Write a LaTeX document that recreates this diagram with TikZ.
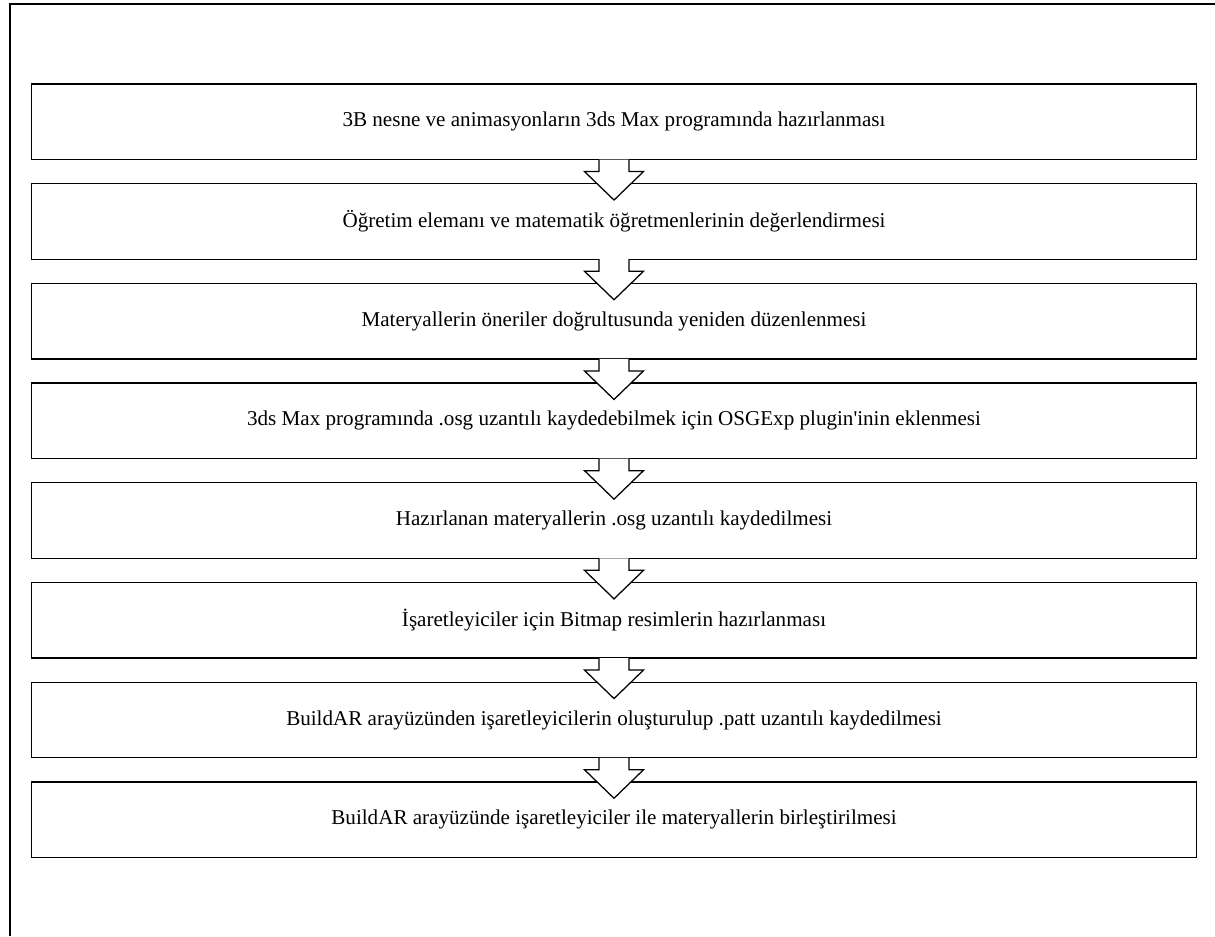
\documentclass[tikz,border=0pt]{standalone}
\usepackage{fontspec}
\setmainfont{Liberation Serif}[Ligatures=TeXOff]
\usepackage{tikz}

\tikzset{
  stepbox/.style={draw, line width=0.9pt, minimum width=29.1cm, minimum height=1.89cm,
    inner sep=0pt, font=\fontsize{15}{18}\selectfont},
  blockarrow/.style={fill=white, draw=black, line width=0.9pt, line join=miter}
}

\begin{document}
\begin{tikzpicture}[x=0.025cm, y=-0.025cm]
        \useasboundingbox (0, 0) rectangle (1215, 936);

        % Frame
        \draw[line width=1.8pt] (10, 936) -- (10, 4) -- (1215, 4);

        % Steps
        \node[stepbox] (s1) at (614, 121.8) {3B nesne ve animasyonların 3ds Max programında hazırlanması};
        \node[stepbox] (s2) at (614, 221.5) {Öğretim elemanı ve matematik öğretmenlerinin değerlendirmesi};
        \node[stepbox] (s3) at (614, 321.2) {Materyallerin öneriler doğrultusunda yeniden düzenlenmesi};
        \node[stepbox] (s4) at (614, 420.9) {3ds Max programında .osg uzantılı kaydedebilmek için OSGExp plugin'inin eklenmesi};
        \node[stepbox] (s5) at (614, 520.6) {Hazırlanan materyallerin .osg uzantılı kaydedilmesi};
        \node[stepbox] (s6) at (614, 620.3) {İşaretleyiciler için Bitmap resimlerin hazırlanması};
        \node[stepbox] (s7) at (614, 720.0) {BuildAR arayüzünden işaretleyicilerin oluşturulup .patt uzantılı kaydedilmesi};
        \node[stepbox] (s8) at (614, 819.7) {BuildAR arayüzünde işaretleyiciler ile materyallerin birleştirilmesi};

        % Block arrows
        \foreach \a/\b in {s1/s2, s2/s3, s3/s4, s4/s5, s5/s6, s6/s7, s7/s8} {
            \path (\a.south) coordinate (top) (\b.north) coordinate (bot);
            \filldraw[blockarrow] ([xshift=-15*0.025cm, yshift=0.5pt]top) -- ++(0, 12) -- ++(-14.5, 0)
                -- ([yshift=-17*0.025cm]bot) -- ([xshift=29.5*0.025cm, yshift=0.5pt-12*0.025cm]top)
                -- ++(-14.5, 0) -- ([xshift=15*0.025cm, yshift=0.5pt]top);
        }
    \end{tikzpicture}
\end{document}
